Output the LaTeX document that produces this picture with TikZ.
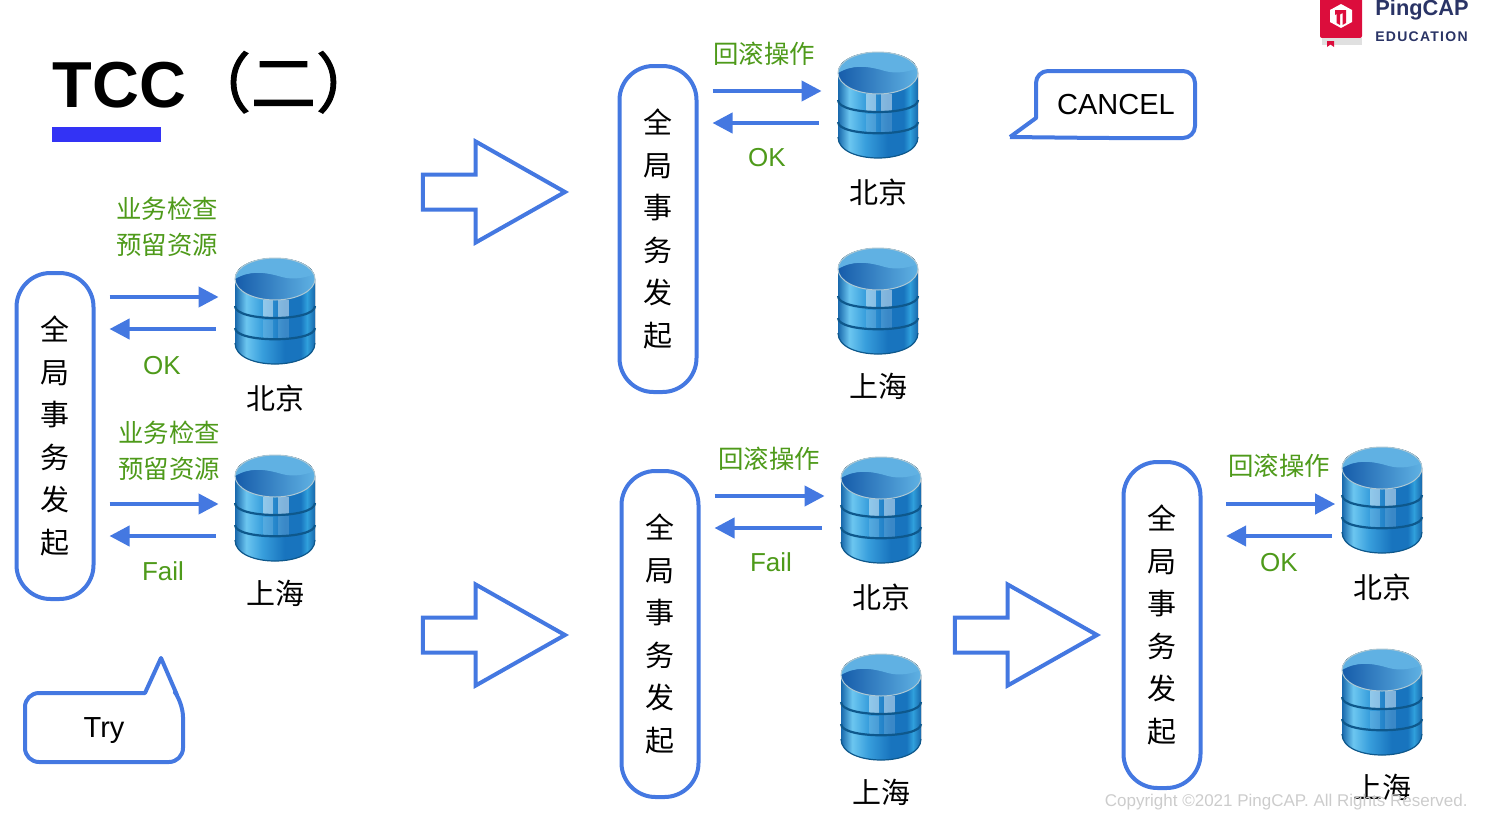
\documentclass[tikz,border=0pt]{standalone}
\usepackage{fontspec}
\usepackage{xcolor}
\usepackage{tikz}
\usetikzlibrary{shapes.arrows, positioning, arrows.meta, calc}
\setmainfont{Liberation Sans}
\newfontfamily\cjk{Noto Sans CJK SC}
\newfontfamily\cjkheavy[FakeBold=1.6]{Noto Sans CJK SC}
\newfontfamily\edufont[LetterSpace=9]{Liberation Sans}
\definecolor{linkblue}{RGB}{68,120,225}
\definecolor{okgreen}{RGB}{78,154,26}
\definecolor{titleblue}{RGB}{51,51,245}
\definecolor{logored}{RGB}{220,13,60}
\definecolor{logonavy}{RGB}{42,52,102}
\definecolor{dbedge}{RGB}{14,88,140}
\definecolor{dbwave}{RGB}{22,92,170}
\definecolor{dba}{RGB}{24,104,172}
\definecolor{dbb}{RGB}{108,198,240}
\definecolor{dbc}{RGB}{56,158,220}
\definecolor{dbd}{RGB}{24,116,190}
\definecolor{dbe}{RGB}{48,160,220}
\pgfdeclarehorizontalshading{dbside}{100bp}{color(0bp)=(dba); color(25bp)=(dba); color(32bp)=(dbb); color(42bp)=(dbc); color(56bp)=(dbd); color(66bp)=(dbd); color(70bp)=(dbe); color(75bp)=(dba); color(100bp)=(dba)}

% one database drum, drawn on top of an empty node
\newcommand{\dbicon}[1]{
    \begin{scope}[shift={(#1.center)}]
    \fill[shading=dbside] (-40,-32) -- (-40,32) .. controls (-40,60) and (40,60) .. (40,32) -- (40,-32) .. controls (40,-60) and (-40,-60) .. (-40,-32) -- cycle;
    \fill[white, opacity=.45] (-12,-11) rectangle (-2,7);
    \fill[white, opacity=.45] (3,-11) rectangle (14,6);
    \fill[white, opacity=.15] (-12,9) rectangle (-2,28);
    \fill[white, opacity=.15] (3,8) rectangle (14,28);
    \draw[dbedge, line width=1.1pt] (-40,-5) .. controls (-40,11) and (40,11) .. (40,-5);
    \draw[dbedge, line width=1.1pt] (-40,17) .. controls (-40,32) and (40,32) .. (40,17);
    \draw[dbedge, line width=.6pt] (-40,32) .. controls (-40,60) and (40,60) .. (40,32);
    \begin{scope}
    \clip (0,-32) ellipse [x radius=40, y radius=21];
    \shade[left color=dbwave, right color=dbc!80!white] (-40,-53) rectangle (40,-11);
    \fill[dbc!80!white] (-40,-32) .. controls (-25,-41) and (-10,-39) .. (7,-34) .. controls (18,-31) and (30,-33) .. (40,-37) -- (40,-53) -- (-40,-53) -- cycle;
    \end{scope}
    \draw[dbb!50!gray!60, line width=.5pt] (0,-32) ellipse [x radius=40, y radius=21];
    \end{scope}
}

\begin{document}
\begin{tikzpicture}[
        x=.5pt, y=-.5pt,
        initbox/.style={draw=linkblue, line width=2pt, rounded corners=17pt, fill=white, minimum width=38.5pt, minimum height=163pt, inner sep=0pt, align=center, font=\cjk\fontsize{14.5}{21.3}\selectfont},
        dbnode/.style={minimum width=40pt, minimum height=53pt, inner sep=0pt},
        city/.style={inner sep=0pt, font=\cjk\fontsize{14.5}{17}\selectfont},
        act/.style={inner sep=0pt, align=center, text=okgreen, font=\cjk\fontsize{12.7}{18}\selectfont},
        ans/.style={inner sep=0pt, text=okgreen, font=\fontsize{13}{15}\selectfont},
        flow/.style={-{Triangle[length=10pt, width=10pt]}, draw=linkblue, line width=2pt},
        bigarr/.style={draw=linkblue, line width=2pt, single arrow, text height=15.5pt, minimum height=71pt, minimum width=50pt, single arrow head extend=16.5pt, single arrow tip angle=59, single arrow head indent=0pt, inner sep=0pt},
        bubble/.style={draw=linkblue, line width=2pt, line join=round},
        saytext/.style={inner sep=0pt, font=\fontsize{14.5}{17}\selectfont}
    ]
    \useasboundingbox (0,0) rectangle (1489,814);

    % title
    \node[inner sep=0pt, anchor=base west, font=\bfseries\fontsize{32.5}{38}\selectfont] (title) at (52,107) {TCC{\cjkheavy\mdseries （二）}};
    \fill[titleblue] (52,127) rectangle (161,142);

    % logo
    \fill[logored, rounded corners=1pt] (1320,-4) rectangle (1362,38);
    \fill[black!12] (1322,38) rectangle (1362,45);
    \fill[logored] (1327,41) -- (1334,41) -- (1334,47) -- (1330.5,44.5) -- (1327,47) -- cycle;
    \fill[white] (1341,4) -- (1352,10) -- (1352,22) -- (1341,28) -- (1330,22) -- (1330,10) -- cycle;
    \fill[logored] (1335,10) -- (1346,10) -- (1346,23) -- (1342.5,25) -- (1342.5,13) -- (1340,14.5) -- (1340,25) -- (1336.5,23) -- (1336.5,14) -- (1335,15) -- cycle;
    \node[inner sep=0pt, anchor=base west, text=logonavy, font=\bfseries\fontsize{10.9}{13}\selectfont] (pingcap) at (1375,15) {PingCAP};
    \node[inner sep=0pt, anchor=base west, text=logonavy, font=\edufont\bfseries\fontsize{7}{9}\selectfont] (edu) at (1375,41) {EDUCATION};

    % initiators
    \foreach \qj/\x/\y in {qja/55/436, qjb/658/229, qjc/660/634, qjd/1162/625}
        \node[initbox] (\qj) at (\x,\y) {全\\局\\事\\务\\发\\起};

    % databases
    \foreach \db/\x/\y/\nm/\gap in {bja/275/311/北京/10, sha/275/508/上海/9, bjb/878/105/北京/10, shb/878/301/上海/9, bjc/881/510/北京/10, shc/881/707/上海/9, bjd/1382/500/北京/10, shd/1382/702/上海/9} {
        \node[dbnode] (\db) at (\x,\y) {};
        \dbicon{\db}
        \node[city] (\db-name) [below=\gap pt of \db] {\nm};
    }

    % arrows
    \foreach \qj/\db/\up/\dn/\sh in {qja/bja/7/-9/0, qja/sha/2/-14/0, qjb/bjb/7/-9/0, qjc/bjc/7/-9/0, qjd/bjd/-2/-18/4.8} {
        \draw[flow, shorten <=7pt, shorten >=8pt] ([xshift=\sh pt, yshift=\up pt]\db.west -| \qj.east) -- ([xshift=\sh pt, yshift=\up pt]\db.west);
        \draw[flow, shorten <=9.5pt, shorten >=7pt] ([xshift=\sh pt, yshift=\dn pt]\db.west) -- ([xshift=\sh pt, yshift=\dn pt]\db.west -| \qj.east);
    }

    % labels on the arrows
    \node[act] (tryA) at (167,227) {业务检查\\预留资源};
    \node[act] (tryB) at (169,451) {业务检查\\预留资源};
    \node[ans] (okA) at (162,366) {OK};
    \node[ans] (failA) at (163,571) {Fail};
    \node[act] (backB) at (764,54) {回滚操作};
    \node[ans] (okB) at (767,158) {OK};
    \node[act] (backC) at (769,459) {回滚操作};
    \node[ans] (failC) at (771,562) {Fail};
    \node[act] (backD) at (1279,466) {回滚操作};
    \node[ans] (okD) at (1279,563) {OK};

    % big arrows
    \node[bigarr] (stepA) at (478.5,192) {};
    \node[bigarr] (stepB) at (478.5,635) {};
    \node[bigarr] (stepC) at (1010.5,635) {};

    % speech bubbles
    \draw[bubble] (1010,137) -- (1036,118) [rounded corners=6pt] -- (1036,71) -- (1195,71) -- (1195,138) -- (1100,138) [sharp corners] -- (1010,137);
    \node[saytext] (cancel) at (1116,105) {CANCEL};
    \draw[bubble] (161,658) -- (177,695) [rounded corners=7pt] -- (183,703) -- (183,762) -- (25,762) -- (25,693) [sharp corners] -- (145,693) -- cycle;
    \node[saytext] (try) at (104,731) {Try};

    % footer
    \node[inner sep=0pt, anchor=east, text=black!20, font=\fontsize{8.5}{11}\selectfont] (copy) at (1468,802) {Copyright ©2021 PingCAP. All Rights Reserved.};
\end{tikzpicture}
\end{document}
